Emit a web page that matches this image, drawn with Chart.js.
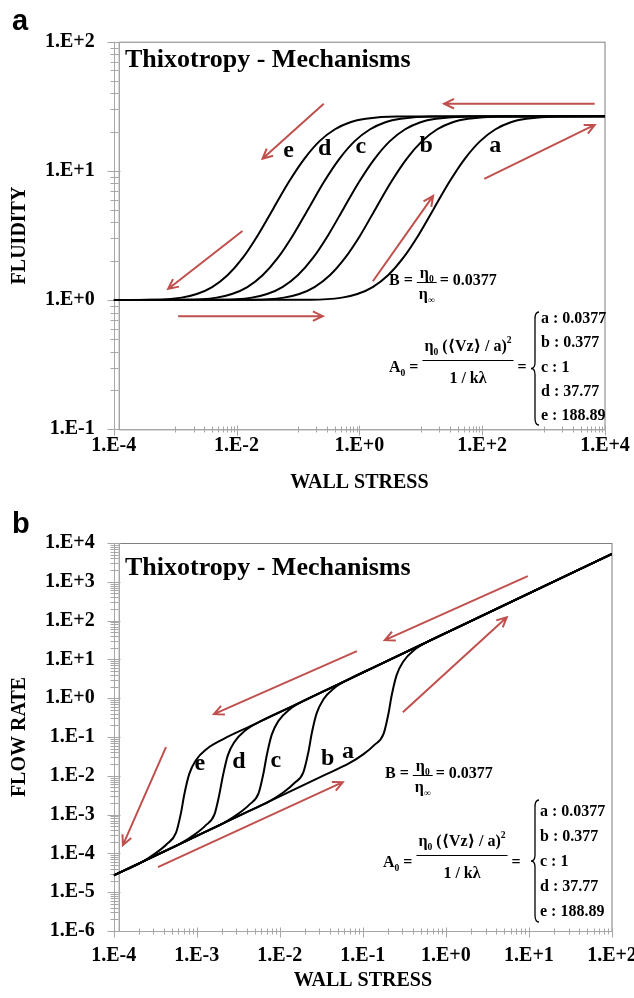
<!DOCTYPE html>
<html>
<head>
<meta charset="utf-8">
<script src="https://cdn.jsdelivr.net/npm/chart.js@4.4.0/dist/chart.umd.min.js"></script>
<style>
  html, body { margin: 0; padding: 0; background: #fff; }
  #wrap { position: relative; width: 634px; height: 998px; overflow: hidden; }
  .panel { position: absolute; left: 0; width: 634px; height: 500px; }
  #pa { top: 0; }
  #pb { top: 498px; }
</style>
</head>
<body>
<div id="wrap">
  <div class="panel" id="pa"><canvas id="chart-a"></canvas></div>
  <div class="panel" id="pb"><canvas id="chart-b"></canvas></div>
</div>
<script>
// ---------- panel a : fluidity vs wall stress ----------
const fluidity = [1, 1.005, 1.045, 1.114, 1.261, 1.556, 2.13, 3.21, 5.15, 8.24, 12.4, 17.0, 21.0, 23.8, 25.3, 26.4, 26.5];
const stressA_a = [1e-4, 0.165, 0.521, 0.927, 1.65, 2.93, 5.21, 9.27, 16.5, 29.3, 52.1, 92.7, 165, 293, 521, 1648, 1e4];
const stressA_b = [1e-4, 0.0186, 0.0589, 0.105, 0.186, 0.331, 0.589, 1.05, 1.86, 3.31, 5.89, 10.5, 18.6, 33.1, 58.9, 186, 1e4];
const stressA_c = [1e-4, 5.58e-3, 0.0177, 0.0314, 0.0558, 0.0993, 0.177, 0.314, 0.558, 0.993, 1.77, 3.14, 5.58, 9.93, 17.7, 55.8, 1e4];
const stressA_d = [1e-4, 1.50e-3, 4.73e-3, 8.41e-3, 0.0150, 0.0266, 0.0473, 0.0841, 0.150, 0.266, 0.473, 0.841, 1.50, 2.66, 4.73, 15.0, 1e4];
const stressA_e = [1e-4, 4.01e-4, 1.27e-3, 2.25e-3, 4.01e-3, 7.13e-3, 0.0127, 0.0225, 0.0401, 0.0713, 0.127, 0.225, 0.401, 0.713, 1.27, 4.01, 1e4];

// ---------- panel b : flow rate vs wall stress ----------
const stressB_a = [1e-4, 0.0344, 0.0687, 0.102, 0.137, 0.177, 0.203, 0.222, 0.255, 0.307, 0.414, 0.656, 1.37, 100];
const flowB_a   = [2.7e-5, 0.0104, 0.0211, 0.0361, 0.0618, 0.118, 0.393, 1.16, 3.94, 8.87, 17.4, 31.2, 66.2, 5260];
const stressB_b = [1e-4, 3.75e-3, 7.48e-3, 0.0111, 0.0149, 0.0192, 0.0221, 0.0242, 0.0278, 0.0334, 0.0451, 0.0714, 0.149, 100];
const flowB_b   = [2.7e-5, 1.09e-3, 2.20e-3, 3.77e-3, 6.43e-3, 0.0123, 0.0409, 0.121, 0.411, 0.923, 1.81, 3.25, 6.89, 5260];
const stressB_c = [1e-4, 1.08e-3, 2.15e-3, 3.18e-3, 4.30e-3, 5.53e-3, 6.35e-3, 6.97e-3, 8.00e-3, 9.62e-3, 0.0130, 0.0206, 0.0430, 100];
const flowB_c   = [2.7e-5, 3.05e-4, 6.18e-4, 1.06e-3, 1.81e-3, 3.46e-3, 0.0115, 0.0340, 0.115, 0.259, 0.508, 0.912, 1.94, 5260];
const stressB_d = [1e-4, 3.18e-4, 6.35e-4, 9.40e-4, 1.27e-3, 1.63e-3, 1.87e-3, 2.06e-3, 2.36e-3, 2.84e-3, 3.83e-3, 6.07e-3, 0.0127, 100];
const flowB_d   = [2.7e-5, 8.79e-5, 1.78e-4, 3.04e-4, 5.20e-4, 9.95e-4, 3.30e-3, 9.77e-3, 0.0332, 0.0746, 0.147, 0.263, 0.557, 5260];
const stressB_e = [1e-4, 2.19e-4, 3.24e-4, 4.37e-4, 5.62e-4, 6.46e-4, 7.08e-4, 8.13e-4, 9.77e-4, 1.32e-3, 2.09e-3, 4.37e-3, 100];
const flowB_e   = [2.7e-5, 6.0e-5, 1.03e-4, 1.75e-4, 3.36e-4, 1.11e-3, 3.30e-3, 0.0112, 0.0252, 0.0493, 0.0885, 0.188, 5260];

// tick labels
const majorXa = [1e-4, 1e-2, 1e0, 1e2, 1e4];
const majorYa = [1e-1, 1e0, 1e1, 1e2];
const majorXb = [1e-4, 1e-3, 1e-2, 1e-1, 1e0, 1e1, 1e2];
const majorYb = [1e-6, 1e-5, 1e-4, 1e-3, 1e-2, 1e-1, 1e0, 1e1, 1e2, 1e3, 1e4];

const A0 = ["a : 0.0377", "b : 0.377", "c : 1", "d : 37.77", "e : 188.89"];

const SERIF = "'Liberation Serif', 'DejaVu Serif', serif";
const RED = "#C0504D";
const AXIS = "#A6A6A6";

function label10(v) {
  const e = Math.round(Math.log10(v));
  return "1.E" + (e >= 0 ? "+" : "") + e;
}

// minor tick positions: k * 10^n
function minors(fromExp, toExp, ks) {
  const out = [];
  for (let n = fromExp; n < toExp; n++) ks.forEach(k => out.push(k * Math.pow(10, n)));
  return out;
}

function pts(xs, ys) {
  return xs.map((x, i) => ({ x: x, y: ys[i] }));
}

function rich(ctx, x, y, parts, size, dry) {
  let cx = x;
  parts.forEach(p => {
    const o = typeof p === "string" ? { t: p } : p;
    const fs = o.sub || o.sup ? size * 0.6 : size;
    const dy = o.sub ? size * 0.22 : o.sup ? -size * 0.5 : 0;
    ctx.font = "bold " + fs + "px " + SERIF;
    if (!dry) ctx.fillText(o.t, cx, y + dy);
    cx += ctx.measureText(o.t).width;
  });
  return cx - x;
}

function arrow(ctx, x1, y1, x2, y2) {
  const a = Math.atan2(y2 - y1, x2 - x1), h = 11, s = 0.45;
  ctx.beginPath();
  ctx.moveTo(x1, y1);
  ctx.lineTo(x2, y2);
  ctx.moveTo(x2 - h * Math.cos(a - s), y2 - h * Math.sin(a - s));
  ctx.lineTo(x2, y2);
  ctx.lineTo(x2 - h * Math.cos(a + s), y2 - h * Math.sin(a + s));
  ctx.stroke();
}

function brace(ctx, x, top, bottom, w) {
  const m = (top + bottom) / 2, c = x + w / 2;
  ctx.beginPath();
  ctx.moveTo(x + w, top);
  ctx.quadraticCurveTo(c, top, c, top + 7);
  ctx.lineTo(c, m - 6);
  ctx.quadraticCurveTo(c, m, x, m);
  ctx.quadraticCurveTo(c, m, c, m + 6);
  ctx.lineTo(c, bottom - 7);
  ctx.quadraticCurveTo(c, bottom, x + w, bottom);
  ctx.stroke();
}

const deco = {
  id: "deco",
  beforeDatasetsDraw(chart, args, o) {
    const { ctx, chartArea: ca, scales: { x, y } } = chart;
    ctx.save();
    ctx.lineWidth = 1;
    ctx.strokeStyle = "#7F7F7F";
    ctx.strokeRect(ca.left + 5.5, ca.top + 0.5, ca.right - ca.left - 5.5, ca.bottom - ca.top);
    ctx.strokeStyle = AXIS;
    ctx.beginPath();
    const L = Math.round(ca.left) + 0.5, B = Math.round(ca.bottom) + 0.5;
    ctx.moveTo(L, ca.top); ctx.lineTo(L, B); ctx.lineTo(ca.right, B);
    o.xMinor.forEach(v => { const p = Math.round(x.getPixelForValue(v)) + 0.5; ctx.moveTo(p, B - 3); ctx.lineTo(p, B + 3); });
    o.xMajor.forEach(v => { const p = Math.round(x.getPixelForValue(v)) + 0.5; ctx.moveTo(p, B - 4); ctx.lineTo(p, B + 6); });
    o.yMinor.forEach(v => { const p = Math.round(y.getPixelForValue(v)) + 0.5; ctx.moveTo(L - 4, p); ctx.lineTo(L + 4, p); });
    o.yMajor.forEach(v => { const p = Math.round(y.getPixelForValue(v)) + 0.5; ctx.moveTo(L - 7, p); ctx.lineTo(L + 6, p); });
    ctx.stroke();
    ctx.restore();
  },
  afterDatasetsDraw(chart, args, o) {
    const { ctx, scales: { x, y } } = chart;
    ctx.save();
    // arrows
    ctx.strokeStyle = RED;
    ctx.lineWidth = 2;
    o.arrows.forEach(a => arrow(ctx, x.getPixelForValue(a[0]), y.getPixelForValue(a[1]),
                                     x.getPixelForValue(a[2]), y.getPixelForValue(a[3])));
    ctx.fillStyle = "#000";
    // panel letter and title
    ctx.textAlign = "left";
    ctx.textBaseline = "alphabetic";
    ctx.font = "bold 29px 'Liberation Sans', Arial, sans-serif";
    ctx.fillText(o.letter, 12, o.letterY);
    ctx.font = "bold 26px " + SERIF;
    ctx.fillText("Thixotropy - Mechanisms", 125, o.titleY);
    // curve labels
    ctx.textAlign = "center";
    ctx.textBaseline = "middle";
    ctx.font = "bold 24px " + SERIF;
    o.labels.forEach(l => ctx.fillText(l[0], x.getPixelForValue(l[1]), y.getPixelForValue(l[2])));
    // equations
    ctx.textAlign = "left";
    ctx.textBaseline = "alphabetic";
    ctx.strokeStyle = "#000";
    ctx.lineWidth = 1;
    const fs = 16, eb = o.eqB, ea = o.eqA;
    let cx = eb.x + rich(ctx, eb.x, eb.y, ["B = "], fs);
    const nB = ["η", { t: "0", sub: true }], dB = ["η", { t: "∞", sub: true }];
    const wN = rich(ctx, 0, 0, nB, fs, true), wD = rich(ctx, 0, 0, dB, fs, true);
    const fw = Math.max(wN, wD) + 4;
    rich(ctx, cx + (fw - wN) / 2, eb.y - 7, nB, fs);
    rich(ctx, cx + (fw - wD) / 2, eb.y + 14, dB, fs);
    ctx.beginPath(); ctx.moveTo(cx, eb.y - 2.5); ctx.lineTo(cx + fw, eb.y - 2.5); ctx.stroke();
    rich(ctx, cx + fw + 3, eb.y, ["= 0.0377"], fs);

    cx = ea.x + rich(ctx, ea.x, ea.y, ["A", { t: "0", sub: true }, " = "], fs);
    const nA = ["η", { t: "0", sub: true }, " (", "⟨", "Vz", "⟩", " / a", ")", { t: "2", sup: true }];
    const dA = ["1 / kλ"];
    const wNA = rich(ctx, 0, 0, nA, fs, true), wDA = rich(ctx, 0, 0, dA, fs, true);
    const fwA = Math.max(wNA, wDA) + 4;
    rich(ctx, cx + (fwA - wNA) / 2, ea.y - 21, nA, fs);
    rich(ctx, cx + (fwA - wDA) / 2, ea.y + 11, dA, fs);
    ctx.beginPath(); ctx.moveTo(cx, ea.y - 11.5); ctx.lineTo(cx + fwA, ea.y - 11.5); ctx.stroke();
    rich(ctx, cx + fwA + 4, ea.y, ["="], fs);
    ctx.lineWidth = 1.3;
    brace(ctx, o.brace.x, o.brace.top, o.brace.bottom, 8);
    A0.forEach((t, i) => rich(ctx, o.list.x, o.list.y0 + i * o.list.dy, [t], fs));
    ctx.restore();
  }
};

const tickFont = { family: SERIF, size: 20, weight: "bold" };
const titleFont = { family: SERIF, size: 20, weight: "bold" };

function curveSet(list) {
  return list.map(d => ({
    data: d,
    showLine: true,
    borderColor: "#000",
    borderWidth: 2,
    pointRadius: 0,
    cubicInterpolationMode: "monotone",
    fill: false
  }));
}

function logAxis(min, max, majors, cfg) {
  return {
    type: "logarithmic",
    min: min,
    max: max,
    grid: { display: false, drawTicks: false },
    border: { display: false },
    ticks: { autoSkip: false, maxRotation: 0, color: "#000", font: tickFont, padding: cfg.pad, callback: v => label10(v) },
    afterBuildTicks: s => { s.ticks = majors.map(v => ({ value: v })); },
    afterFit: s => {
      if (cfg.w) s.width = cfg.w;
      if (cfg.h) s.height = cfg.h;
      s.paddingLeft = 0; s.paddingRight = 0; s.paddingTop = 0; s.paddingBottom = 0;
    },
    title: { display: true, text: cfg.title, color: "#000", font: titleFont, padding: cfg.tpad }
  };
}

new Chart(document.getElementById("chart-a"), {
  type: "scatter",
  data: {
    datasets: curveSet([
      pts(stressA_a, fluidity), pts(stressA_b, fluidity), pts(stressA_c, fluidity),
      pts(stressA_d, fluidity), pts(stressA_e, fluidity)
    ])
  },
  options: {
    responsive: true,
    maintainAspectRatio: false,
    animation: false,
    devicePixelRatio: 1,
    layout: { padding: { top: 41.7, right: 29, bottom: 5, left: 0 } },
    plugins: {
      legend: { display: false },
      tooltip: { enabled: false },
      deco: {
        letter: "a", letterY: 30, titleY: 67,
        xMajor: majorXa, yMajor: majorYa,
        xMinor: [-4, -2, 0, 2].flatMap(n => [1, 2, 3, 4, 5, 6, 7, 8, 9].map(k => k * Math.pow(10, n + 1))),
        yMinor: minors(-1, 2, [2, 3, 4, 5, 6, 7, 8, 9]),
        arrows: [
          [6790, 33.1, 24.0, 33.1],
          [108, 8.67, 6790, 22.7],
          [0.263, 33.1, 0.0265, 12.4],
          [0.0125, 3.43, 7.7e-4, 1.22],
          [1.12e-3, 0.751, 0.254, 0.751],
          [1.66, 1.40, 15.9, 6.40]
        ],
        labels: [
          ["e", 0.0705, 14.3], ["d", 0.273, 14.8], ["c", 1.06, 15.3], ["b", 12.2, 15.6], ["a", 164, 15.6]
        ],
        eqB: { x: 389, y: 285 },
        eqA: { x: 389, y: 372 },
        brace: { x: 531, top: 312, bottom: 425 },
        list: { x: 541, y0: 323, dy: 24.3 }
      }
    },
    scales: {
      x: logAxis(1e-4, 1e4, majorXa, { h: 65.7, pad: 5, title: "WALL STRESS", tpad: { top: 0, bottom: 0 } }),
      y: logAxis(1e-1, 1e2, majorYa, { w: 113.7, pad: 19, title: "FLUIDITY", tpad: { top: 7.5, bottom: 0 } })
    }
  },
  plugins: [deco]
});

new Chart(document.getElementById("chart-b"), {
  type: "scatter",
  data: {
    datasets: curveSet([
      pts(stressB_a, flowB_a), pts(stressB_b, flowB_b), pts(stressB_c, flowB_c),
      pts(stressB_d, flowB_d), pts(stressB_e, flowB_e)
    ])
  },
  options: {
    responsive: true,
    maintainAspectRatio: false,
    animation: false,
    devicePixelRatio: 1,
    layout: { padding: { top: 45, right: 22, bottom: 5, left: 0 } },
    plugins: {
      legend: { display: false },
      tooltip: { enabled: false },
      deco: {
        letter: "b", letterY: 35, titleY: 77,
        xMajor: majorXb, yMajor: majorYb,
        xMinor: minors(-4, 2, [2, 3, 4, 5, 6, 7, 8, 9]),
        yMinor: minors(-6, 4, [2, 3, 4, 5, 6, 7, 8, 9]),
        arrows: [
          [9.68, 1394, 0.184, 31.3],
          [0.0848, 16.3, 1.61e-3, 0.387],
          [4.26e-4, 0.0546, 1.29e-4, 1.63e-4],
          [3.41e-4, 4.41e-5, 0.0574, 6.84e-3],
          [0.303, 0.436, 5.41, 122]
        ],
        labels: [
          ["e", 1.09e-3, 0.0199], ["d", 3.22e-3, 0.0224], ["c", 8.97e-3, 0.0238], ["b", 0.0378, 0.0268], ["a", 0.0661, 0.0406]
        ],
        eqB: { x: 385, y: 280 },
        eqA: { x: 383, y: 369 },
        brace: { x: 531, top: 302, bottom: 424 },
        list: { x: 540, y0: 317.5, dy: 25 }
      }
    },
    scales: {
      x: logAxis(1e-4, 1e2, majorXb, { h: 62, pad: 13, title: "WALL STRESS", tpad: { top: 0, bottom: 0 } }),
      y: logAxis(1e-6, 1e4, majorYb, { w: 113.7, pad: 19, title: "FLOW RATE", tpad: { top: 7.5, bottom: 0 } })
    }
  },
  plugins: [deco]
});
</script>
</body>
</html>
